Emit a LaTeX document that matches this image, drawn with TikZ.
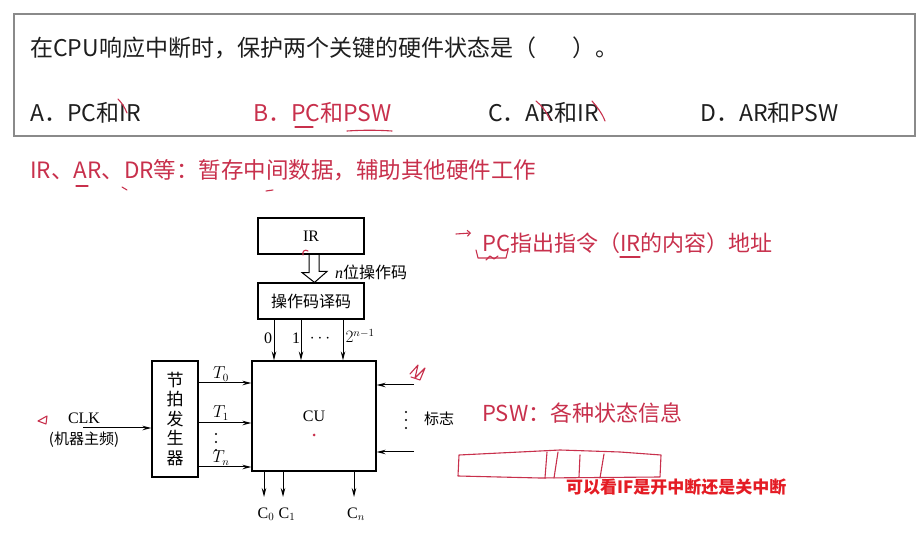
\documentclass[tikz,border=0pt]{standalone}
\usepackage{fontspec}
\setmainfont{Liberation Serif}
\newfontfamily\cjk{Noto Sans CJK SC}
\usetikzlibrary{arrows.meta,calc,positioning}
\definecolor{penred}{HTML}{C8304C}
\definecolor{subred}{HTML}{E41C24}
\definecolor{framegray}{HTML}{8A8A8A}
\definecolor{inkblack}{HTML}{1E1E1E}

\begin{document}
\begin{tikzpicture}[x=1pt, y=-1pt, >={Stealth[length=9pt,width=4.5pt]},
  blockbox/.style={draw, line width=1.1pt, minimum width=106pt, minimum height=36pt, inner sep=0pt},
  sig/.style={->, line width=1pt},
  qtext/.style={font=\cjk\fontsize{23}{27}\selectfont, anchor=west, inner sep=0pt, text=inkblack},
  redtext/.style={font=\cjk\fontsize{22}{26}\selectfont, anchor=west, inner sep=0pt, text=penred},
  pen/.style={penred, line width=1.1pt, line cap=round, line join=round},
  lbl/.style={font=\fontsize{16}{18}\selectfont, inner sep=1pt}]

  \useasboundingbox (0,0) rectangle (916,534);
  \fill[white] (0,0) rectangle (916,534);

  % ================= QUESTION FRAME =================
  \draw[framegray, line width=1.3pt] (14,14) rectangle (915,136);
  \node[qtext] (q) at (30,48) {在CPU响应中断时，保护两个关键的硬件状态是（\hspace{1.6em}）。};
  \node[qtext] (optA) at (30,113) {A．PC和IR};
  \node[qtext, text=penred] (optB) at (253,113) {B．PC和PSW};
  \node[qtext] (optC) at (488,113) {C．AR和IR};
  \node[qtext] (optD) at (700,113) {D．AR和PSW};

  % pen marks on the options
  \draw[pen] (118,99) .. controls (122,103) and (125,108) .. (127,113);
  \draw[pen] (295,127) -- (313,127);
  \draw[pen] (347,131) .. controls (362,130) and (377,130) .. (392,131);
  \draw[pen] (536,101) .. controls (542,106) and (547,112) .. (550,120);
  \draw[pen] (592,101) .. controls (597,107) and (602,113) .. (605,121);

  % ================= NOTES =================
  \node[redtext, font=\cjk\fontsize{22.5}{26}\selectfont] (regnote) at (30,170)
    {IR、AR、DR等：暂存中间数据，辅助其他硬件工作};
  \draw[pen] (76,186) -- (88,186);
  \draw[pen] (122,187) -- (127,190);
  \draw[pen] (266,191) -- (273,190);

  \node[redtext] (pcnote) at (482,243) {PC指出指令（IR的内容）地址};
  \draw[pen, -{Straight Barb[length=3pt]}] (456,234) -- (471,233);
  \draw[pen] (476,250) -- (478,258) -- (506,258) -- (508,250);
  \draw[pen] (486,260) -- (490,256) -- (494,259) -- (498,256);
  \draw[pen] (620,257) -- (640,257);

  \node[redtext] (pswnote) at (482,413) {PSW：各种状态信息};
  % hand drawn PSW register
  \draw[pen] (459,455) -- (458,476) -- (540,478) -- (660,477) -- (661,455)
    -- (620,452) -- (560,450) -- (520,452) -- cycle;
  \draw[pen] (547,452) -- (545,478);
  \draw[pen] (558,452) -- (554,478);
  \draw[pen] (580,455) -- (579,477);
  \draw[pen] (604,454) -- (600,478);

  \node[font=\cjk\bfseries\fontsize{17}{20}\selectfont, text=subred, anchor=west, inner sep=0pt]
    (ifnote) at (566,487) {可以看IF是开中断还是关中断};

  % ================= CONTROLLER DIAGRAM =================
  \node[blockbox, font=\fontsize{16}{18}\selectfont] (ir) at (311,236) {IR};
  \node[blockbox, font=\cjk\fontsize{16}{18}\selectfont] (dec) at (311,301) {操作码译码};
  \node[draw, line width=1.1pt, minimum width=124pt, minimum height=110pt,
    font=\fontsize{16}{18}\selectfont] (cu) at (314,416) {CU};
  \node[draw, line width=1.1pt, minimum width=46pt, minimum height=116pt, align=center,
    font=\cjk\fontsize{17}{19.5}\selectfont] (gen) at (175,419) {节\\拍\\发\\生\\器};

  % hollow arrow IR -> decoder
  \draw[line width=1pt] ([xshift=-2pt]ir.south) -- ++(0,18) -- ++(-7,0)
    -- ([xshift=3.5pt]dec.north) -- ++(12.5,-11) -- ++(-8,0) -- ([xshift=8pt]ir.south);
  \node[lbl, anchor=west, inner sep=0pt] (opn) at (335,272) {\textit{n}{\cjk 位操作码}};

  % decoder outputs
  \foreach \x in {274,301,343}
    \draw[sig] (\x,0 |- dec.south) -- (\x,0 |- cu.north);
  \node[lbl] (d0) at (268,338) {0};
  \node[lbl] (d1) at (296,338) {1};
  \node[lbl] (ddots) at (320,339) {$\cdots$};
  \node[lbl] (dlast) at (360,336) {$2^{n-1}$};

  % clock input
  \coordinate (clk) at (83,428);
  \draw[sig] (clk) -- (clk -| gen.west);
  \node[lbl] (clklbl) at (84,418) {CLK};
  \node[lbl, font=\cjk\fontsize{15}{18}\selectfont] (clkfreq) at (84,440) {(机器主频)};

  % timing signals
  \foreach \y in {383,423,467}
    \draw[sig] (gen.east |- 0,\y) -- (cu.west |- 0,\y);
  \node[lbl] (t0) at (221,374) {$T_0$};
  \node[lbl] (t1) at (221,413) {$T_1$};
  \node[lbl] (tn) at (221,458) {$T_n$};
  \foreach \y in {434,442,450}
    \fill (216,\y) circle (1.1pt);

  % flags
  \coordinate (flag1) at (414,385);
  \coordinate (flag2) at (414,452);
  \draw[sig] (flag1) -- (flag1 -| cu.east);
  \draw[sig] (flag2) -- (flag2 -| cu.east);
  \foreach \y in {412,420,428}
    \fill (406,\y) circle (1.1pt);
  \node[lbl, font=\cjk\fontsize{15}{18}\selectfont] (flaglbl) at (439,419) {标志};

  % control signals
  \foreach \x in {264,283,354}
    \draw[sig] (\x,0 |- cu.south) -- (\x,497);
  \node[lbl] (c0) at (266,514) {C$_0$};
  \node[lbl] (c1) at (287,514) {C$_1$};
  \node[lbl] (cn) at (356,514) {C$_n$};

  % pen marks on the diagram
  \draw[pen] (38,421) -- (47,416) -- (46,424) -- cycle;
  \draw[pen] (303,255) .. controls (302,251) and (305,249) .. (308,251);
  \fill[penred] (314,435) circle (1.5pt);
  \draw[pen] (410,374) -- (418,365) -- (415,378) -- (425,368) -- (420,380) -- (411,377);
\end{tikzpicture}
\end{document}
